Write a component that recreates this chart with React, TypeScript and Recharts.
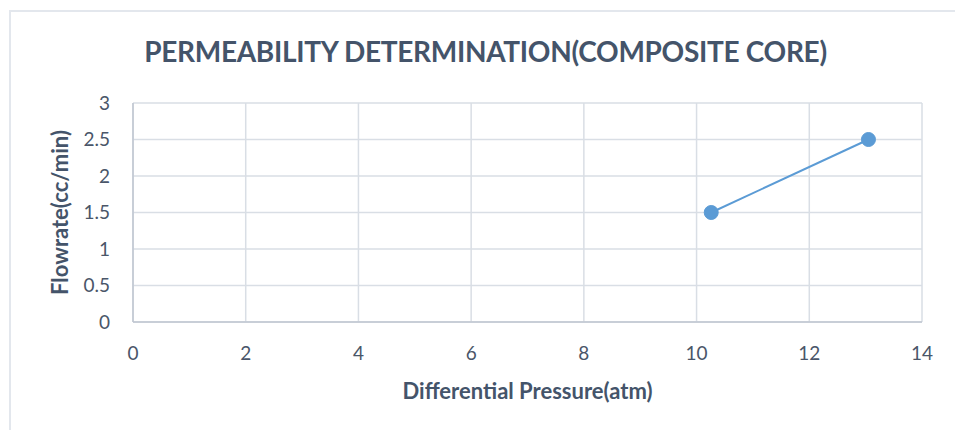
import { CartesianGrid, Label, Line, LineChart, XAxis, YAxis } from "recharts";

const pressureAtm = [10.26, 13.05];
const flowrateCcMin = [1.5, 2.5];
const xTicks = [0, 2, 4, 6, 8, 10, 12, 14];
const yTicks = [0, 0.5, 1, 1.5, 2, 2.5, 3];

const data = pressureAtm.map((x, i) => ({ x, y: flowrateCcMin[i] }));

const FONT = "Lato, 'Open Sans', sans-serif";
const INK = "#44546A";
const TICK = "#4A5669";
const GRID = "#D9DEE5";

export default function App() {
  return (
    <div style={{ position: "absolute", left: 0, top: 0, width: 955, height: 430, fontFamily: FONT, overflow: "hidden" }}>
      {/* chart frame, only top and left edges show */}
      <div
        style={{
          position: "absolute",
          left: 9,
          top: 10,
          width: 946,
          height: 420,
          borderTop: `2px solid #E3E7ED`,
          borderLeft: `2px solid #E3E7ED`,
          boxSizing: "border-box"
        }}
      />
      <div
        style={{
          position: "absolute",
          left: 0,
          top: 33,
          width: 955,
          textAlign: "center",
          paddingLeft: 16,
          boxSizing: "border-box",
          fontSize: 28,
          lineHeight: "36px",
          fontWeight: 700,
          letterSpacing: -0.3,
          color: INK
        }}
      >
        PERMEABILITY DETERMINATION(COMPOSITE CORE)
      </div>
      <div style={{ position: "absolute", left: 0, top: 0 }}>
        <LineChart width={955} height={430} data={data} margin={{ top: 103, right: 33, bottom: 0, left: 0 }}>
          <CartesianGrid stroke={GRID} strokeWidth={1.5} />
          <XAxis
            dataKey="x"
            type="number"
            domain={[0, 14]}
            ticks={xTicks}
            height={108}
            tickLine={false}
            tickSize={0}
            tickMargin={25}
            stroke="#BFC6D1"
            strokeWidth={1.5}
            tick={{ fill: TICK, fontSize: 19, fontFamily: FONT }}
          >
            <Label
              content={({ viewBox }: any) => (
                <text
                  x={viewBox.x + viewBox.width / 2}
                  y={viewBox.y + 77}
                  textAnchor="middle"
                  fill={INK}
                  fontSize={22}
                  fontWeight={700}
                  fontFamily={FONT}
                >
                  Differential Pressure(atm)
                </text>
              )}
            />
          </XAxis>
          <YAxis
            dataKey="y"
            type="number"
            domain={[0, 3]}
            ticks={yTicks}
            width={133}
            tickLine={false}
            tickSize={0}
            tickMargin={23}
            stroke="#BFC6D1"
            strokeWidth={1.5}
            tick={{ fill: TICK, fontSize: 19, fontFamily: FONT }}
          >
            <Label
              content={({ viewBox }: any) => {
                const cx = 59;
                const cy = viewBox.y + viewBox.height / 2;
                return (
                  <text
                    x={cx}
                    y={cy}
                    transform={`rotate(-90 ${cx} ${cy})`}
                    textAnchor="middle"
                    dominantBaseline="central"
                    fill={INK}
                    fontSize={22}
                    fontWeight={700}
                    fontFamily={FONT}
                  >
                    Flowrate(cc/min)
                  </text>
                );
              }}
            />
          </YAxis>
          <Line
            dataKey="y"
            stroke="#5B9BD5"
            strokeWidth={2}
            dot={{ r: 7, fill: "#5B9BD5", stroke: "#5B9BD5", strokeWidth: 1 }}
            activeDot={false}
            isAnimationActive={false}
          />
        </LineChart>
      </div>
    </div>
  );
}
